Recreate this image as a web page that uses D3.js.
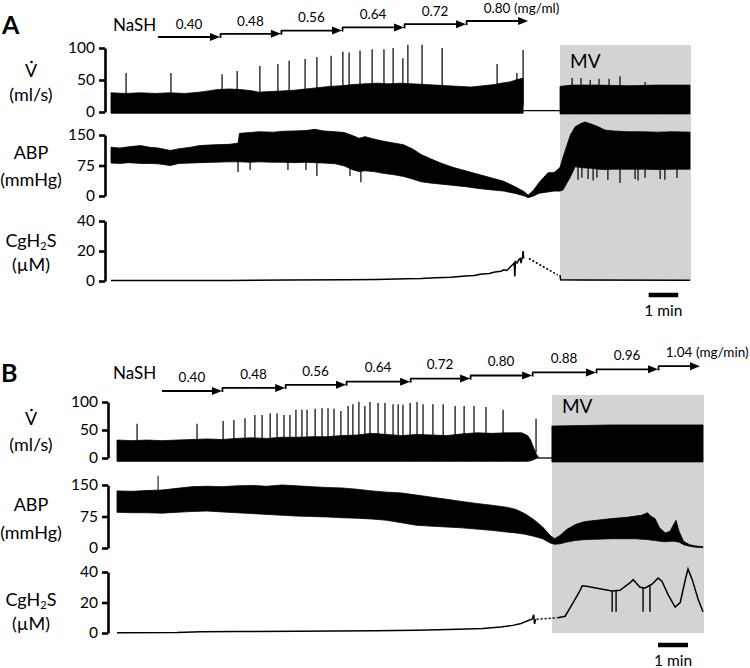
<!DOCTYPE html>
<html><head><meta charset="utf-8">
<script src="https://cdn.jsdelivr.net/npm/d3@7"></script>
<style>html,body{margin:0;padding:0;background:#fff;} svg{display:block;font-family:Lato,"Open Sans",sans-serif;}</style>
</head><body>
<script>
// ---------------- DATA ----------------
// Panel A (time in minutes)
const doseLabelsA = ["0.40","0.48","0.56","0.64","0.72","0.80"];
const doseTimesA = [1.59, 3.69, 5.75, 7.82, 9.92, 12.02, 14.12];
const doseUnitA = "(mg/ml)";
const mvA = [15.2, 19.6];
const tEndA = 19.6;
// V (ml/s) envelope [t, high, low]
const vEnvA = [[0,30,-2],[0.5,29,-2],[1.0,30,-2],[1.5,29,-2],[2.0,30,-2],[2.5,29,-2],[3.0,31,-2],[3.3,33,-2],[3.6,35,-2],[4.0,36,-2],[4.4,35,-2],[4.8,33,-2],[5.0,31,-2],[5.4,32,-2],[5.8,33,-2],[6.2,34,-2],[6.6,36,-2],[7.0,38,-2],[7.4,40,-2],[7.8,41,-2],[8.2,43,-2],[8.6,44,-2],[9.0,45,-2],[9.4,44,-2],[9.8,45,-2],[10.2,44,-2],[10.6,43,-2],[11.0,42,-2],[11.4,41,-2],[11.8,40,-2],[12.2,39,-2],[12.6,41,-2],[13.0,43,-2],[13.2,45,-2],[13.5,47,-2],[13.7,50,-2],[13.95,53,-2]];
const vGapA = [[13.95,2],[15.2,2]];
const vMvA = [[15.2,40,-3],[15.6,42,-3],[16.5,42,-3],[17.5,41,-3],[18.5,42,-3],[19.6,42,-3]];
const vSpikesA = [[0.51,61],[2.03,61],[3.76,59],[4.27,64],[5.04,72],[5.65,75],[6.03,80],[6.57,83],[6.97,86],[7.45,88],[7.85,94],[8.06,93],[8.43,96],[8.84,98],[9.24,98],[9.55,100],[9.88,84],[10.05,105],[10.53,105],[11.21,100],[13.07,75],[13.74,61],[13.95,97],[15.61,53],[15.91,53],[16.22,50],[16.52,52],[16.86,52],[17.23,56],[18.08,47]];
// ABP (mmHg) envelope [t, high, low]
const abpEnvA = [[0,120,81],[0.3,118,80],[0.6,121,82],[1.0,124,80],[1.3,120,80],[1.6,118,79],[2.0,112,75],[2.3,116,80],[2.7,120,81],[3.0,124,82],[3.5,126,83],[4.0,127,84],[4.3,130,84],[4.35,154,84],[4.7,156,83],[5.0,158,84],[5.5,157,83],[5.8,159,83],[6.2,160,82],[6.6,161,83],[6.9,164,82],[7.2,160,81],[7.6,158,79],[7.9,156,74],[8.2,148,64],[8.4,142,60],[8.6,146,62],[8.9,140,60],[9.2,135,56],[9.6,130,52],[9.9,126,48],[10.2,116,42],[10.5,102,35],[10.8,92,32],[11.2,80,29],[11.6,70,26],[12.0,62,23],[12.5,52,18],[12.9,44,15],[13.3,36,12],[13.7,22,6],[14.0,10,0],[14.12,2,-4],[14.3,14,0],[14.5,34,7],[14.79,57,10],[15.0,58,12],[15.2,70,12],[15.3,95,15],[15.55,150,47],[15.71,170,72],[15.9,178,70],[16.05,182,69],[16.3,176,68],[16.5,170,66],[16.72,162,65],[17.0,160,66],[17.5,158,66],[18.0,158,66],[18.5,157,65],[19.0,158,66],[19.6,157,66]];
const abpDipsA = [[4.30,59],[4.71,64],[5.99,64],[6.60,64],[6.97,49],[8.09,49],[8.46,34],[15.81,40],[15.94,45],[16.15,42],[16.32,38],[16.45,45],[16.82,40],[17.23,32],[17.74,42],[17.84,38],[18.08,45],[18.59,42],[18.75,40],[19.16,44]];
// CgH2S (uM)
const cgA = [[0,0.3],[2,0.3],[4,0.4],[6,0.6],[8,0.8],[9,1.0],[10,1.5],[10.5,1.6],[11,2.2],[11.5,2.5],[12,3.3],[12.3,3.6],[12.5,4.5],[12.8,5],[13,6],[13.2,6.5],[13.3,7.5],[13.4,7],[13.5,9],[13.6,11],[13.65,12],[13.67,3],[13.69,13],[13.75,12],[13.8,14],[13.85,15],[13.88,12],[13.9,14],[13.93,16],[13.95,20],[13.97,15]];
const cgDotA = [[14.15,15],[15.12,4]];
const cgMvA = [[15.2,4],[15.22,0.8],[16,0.6],[19.6,0.5]];
const cgDipsA = [];
const abpUpA = [];

// Panel B
const doseLabelsB = ["0.40","0.48","0.56","0.64","0.72","0.80","0.88","0.96","1.04"];
const doseTimesB = [1.50, 3.50, 5.61, 7.64, 9.78, 11.78, 13.85, 15.98, 18.05, 19.45];
const doseUnitB = "(mg/min)";
const mvB = [14.51, 19.55];
const tEndB = 19.55;
const vEnvB = [[0,32,-6],[0.5,31,-6],[1.0,32,-6],[1.5,31,-6],[2.0,32,-6],[2.5,33,-6],[3.0,34,-6],[3.5,33,-6],[4.0,35,-6],[4.5,36,-6],[5.0,35,-6],[5.5,37,-6],[6.0,37,-6],[6.5,38,-6],[7.0,38,-6],[7.5,40,-6],[8.0,41,-6],[8.5,44,-6],[9.0,42,-6],[9.5,40,-6],[10.0,42,-6],[10.5,41,-6],[11.0,40,-6],[11.5,43,-6],[12.0,45,-6],[12.5,44,-6],[13.0,45,-6],[13.5,45,-6],[13.7,40,-6],[13.8,32,-5],[13.9,18,-3],[13.98,8,-1],[14.05,2,0]];
const vGapB = [[14.05,0],[14.51,0]];
const vMvB = [[14.51,57,-7],[15.5,58,-7],[16.5,59,-7],[17.5,59,-7],[18.5,59,-7],[19.55,59,-7]];
const vSpikesB = [[0.67,61],[2.67,61],[3.54,66],[3.90,68],[4.27,71],[4.60,77],[4.84,77],[5.11,80],[5.34,80],[5.57,77],[5.77,77],[5.97,86],[6.17,86],[6.34,86],[6.61,88],[6.84,89],[7.04,89],[7.24,88],[7.47,84],[7.71,93],[7.87,96],[8.07,100],[8.27,93],[8.44,100],[8.71,98],[8.94,98],[9.21,96],[9.38,96],[9.54,95],[9.78,98],[10.01,100],[10.21,96],[10.54,96],[10.88,96],[11.28,93],[11.58,93],[11.91,93],[12.31,91],[12.88,86],[13.98,70]];
const abpEnvB = [[0,136,85],[0.5,135,84],[1.0,137,84],[1.5,138,83],[2.0,142,85],[2.5,146,87],[3.0,147,88],[3.5,146,86],[4.0,148,84],[4.5,149,82],[5.0,147,80],[5.5,150,78],[6.0,148,76],[6.5,146,75],[7.0,144,74],[7.5,143,72],[8.0,140,71],[8.5,136,69],[9.0,133,66],[9.5,131,60],[10.0,126,54],[10.5,121,52],[11.0,116,50],[11.5,111,48],[12.0,106,45],[12.5,102,42],[13.0,97,38],[13.3,92,36],[13.6,82,33],[13.9,68,28],[14.2,50,22],[14.45,30,12],[14.6,22,9],[14.78,30,10],[15.0,44,14],[15.3,56,18],[15.6,63,20],[16.0,66,21],[16.5,70,22],[17.0,73,22],[17.3,76,22],[17.5,78,21],[17.7,84,20],[17.8,76,19],[17.95,70,18],[18.1,48,16],[18.29,36,15],[18.45,40,16],[18.6,60,16],[18.65,66,15],[18.75,40,14],[18.9,16,8],[19.1,8,4],[19.3,5,2],[19.55,3,1]];
const abpDipsB = [];
const abpUpB = [[1.37,172]];
const cgB = [[0,0.2],[2,0.3],[2.8,0.8],[4,1.0],[6,1.2],[8.6,1.5],[10,1.8],[11.4,2.5],[12.2,3],[12.8,4],[13.2,5],[13.45,6],[13.7,8],[13.85,9],[13.9,12],[13.93,6],[13.97,9]];
const cgDotB = [[14.0,9],[14.7,10]];
const cgMvB = [[14.71,10],[14.95,11],[15.1,16],[15.28,22],[15.45,28],[15.52,31],[15.72,30.5],[16.1,29],[16.52,27.5],[16.78,28],[17.12,33],[17.22,35],[17.45,30],[17.62,29.5],[17.85,32],[18.05,36],[18.18,34],[18.39,25],[18.62,17],[18.79,20],[18.96,35],[19.05,42],[19.19,35],[19.39,22],[19.55,14]];
const cgDipsB = [[16.52,14],[16.65,14],[17.55,14],[17.78,14]];

const vTicks = [0,50,100];
const abpTicks = [0,75,150];
const cgTicks = [0,20,40];

// ---------------- DRAW ----------------
const svg = d3.select("body").append("svg").attr("width",750).attr("height",668);

function panel(p){
  const g = svg.append("g");
  const x = d3.scaleLinear().domain([0,p.tEnd]).range(p.xr);
  const yV = d3.scaleLinear().domain([0,100]).range(p.vr);
  const yA = d3.scaleLinear().domain([0,150]).range(p.ar);
  const yC = d3.scaleLinear().domain([0,40]).range(p.cr);

  // MV box
  g.append("rect").attr("x",x(p.mv[0])).attr("y",p.mvTop).attr("width",x(p.mv[1])-x(p.mv[0])+1)
   .attr("height",p.mvBottom-p.mvTop).attr("fill","#d3d3d3");
  g.append("text").attr("x",x(p.mv[0])+10).attr("y",p.mvTextY).attr("dy","0.35em")
   .attr("font-size",19).text("MV");

  const area = y => d3.area().x(d=>x(d[0])).y0(d=>y(d[2])).y1(d=>y(d[1]));
  const line = y => d3.line().x(d=>x(d[0])).y(d=>y(d[1]));

  // V
  [p.vEnv,p.vMv].forEach(a=>g.append("path").datum(a).attr("d",area(yV)).attr("fill","#000").attr("stroke","#000").attr("stroke-width",0.8));
  g.append("path").datum(p.vGap).attr("d",line(yV)).attr("fill","none").attr("stroke","#000").attr("stroke-width",1.3);
  g.selectAll(null).data(p.vSpikes).join("line").attr("x1",d=>x(d[0])).attr("x2",d=>x(d[0]))
   .attr("y1",yV(10)).attr("y2",d=>yV(d[1])).attr("stroke","#000").attr("stroke-width",1.2);

  // ABP
  g.append("path").datum(p.abpEnv).attr("d",area(yA)).attr("fill","#000").attr("stroke","#000").attr("stroke-width",0.8);
  g.selectAll(null).data(p.abpDips).join("line").attr("x1",d=>x(d[0])).attr("x2",d=>x(d[0]))
   .attr("y1",yA(100)).attr("y2",d=>yA(d[1])).attr("stroke","#000").attr("stroke-width",1.2);
  g.selectAll(null).data(p.abpUp).join("line").attr("x1",d=>x(d[0])).attr("x2",d=>x(d[0]))
   .attr("y1",yA(120)).attr("y2",d=>yA(d[1])).attr("stroke","#000").attr("stroke-width",1);

  // CgH2S
  [p.cg,p.cgMv].forEach(a=>g.append("path").datum(a).attr("d",line(yC)).attr("fill","none").attr("stroke","#000").attr("stroke-width",1.5));
  g.append("path").datum(p.cgDot).attr("d",line(yC)).attr("fill","none").attr("stroke","#000").attr("stroke-width",1.5).attr("stroke-dasharray","2,2");
  const bis = d3.bisector(d=>d[0]).left;
  const cgAt = t => { const i = bis(p.cgMv,t); const a=p.cgMv[i-1], b=p.cgMv[i]; return a[1]+(b[1]-a[1])*(t-a[0])/(b[0]-a[0]); };
  g.selectAll(null).data(p.cgDips).join("line").attr("x1",d=>x(d[0])).attr("x2",d=>x(d[0]))
   .attr("y1",d=>yC(cgAt(d[0]))).attr("y2",d=>yC(d[1])).attr("stroke","#000").attr("stroke-width",1.4);

  // Axes
  const ax = (scale, ticks) => {
    const a = g.append("g").attr("transform",`translate(${p.axisX},0)`)
      .call(d3.axisLeft(scale).tickValues(ticks).tickSize(6).tickSizeOuter(0).tickPadding(4));
    a.select(".domain").attr("stroke","#000").attr("stroke-width",2.6);
    a.selectAll(".tick line").attr("stroke","#000").attr("stroke-width",2.6);
    a.selectAll(".tick text").attr("font-size",15.5).attr("fill","#000").attr("font-family","Lato, sans-serif");
  };
  ax(yV,vTicks); ax(yA,abpTicks); ax(yC,cgTicks);

  // Axis titles
  const tx = 31;
  const t1 = (y,s)=>g.append("text").attr("x",tx).attr("y",y).attr("dy","0.35em").attr("text-anchor","middle").attr("font-size",18).text(s);
  t1(p.lab[0],"V");
  g.append("circle").attr("cx",tx+0.5).attr("cy",p.lab[0]-9).attr("r",1.3).attr("fill","#000");
  t1(p.lab[1],"(ml/s)");
  t1(p.lab[2],"ABP");
  t1(p.lab[3],"(mmHg)");
  const cgT = g.append("text").attr("x",tx).attr("y",p.lab[4]).attr("dy","0.35em").attr("text-anchor","middle").attr("font-size",18);
  cgT.append("tspan").text("CgH");
  cgT.append("tspan").attr("font-size",11).attr("dy","3").text("2");
  cgT.append("tspan").attr("dy","-3").text("S");
  t1(p.lab[5],"(µM)");

  // Panel letter
  g.append("text").attr("x",p.letterX).attr("y",p.letterY).attr("dy","0.35em").attr("font-size",25).attr("font-weight","bold").text(p.letter);
  // NaSH
  g.append("text").attr("x",p.nashX).attr("y",p.nashY).attr("dy","0.35em").attr("font-size",17).text("NaSH");

  // dose arrows
  const n = p.doseLabels.length;
  for(let i=0;i<n;i++){
    const x0 = x(p.doseTimes[i]), x1 = x(p.doseTimes[i+1]);
    const yy = p.arrowY - i*p.arrowStep;
    if(i>0){
      g.append("line").attr("x1",x0+0.5).attr("x2",x0+0.5).attr("y1",yy+p.arrowStep+1).attr("y2",yy).attr("stroke","#000").attr("stroke-width",1.8);
    }
    g.append("line").attr("x1",x0).attr("x2",x1-6).attr("y1",yy).attr("y2",yy).attr("stroke","#000").attr("stroke-width",1.8);
    g.append("path").attr("d",`M${x1},${yy}L${x1-10},${yy-4}L${x1-10},${yy+4}Z`).attr("fill","#000");
    const mid=(x0+x1)/2;
    g.append("text").attr("x",mid).attr("y",yy-p.labOff).attr("dy","0.35em").attr("text-anchor","middle").attr("font-size",13.5).text(p.doseLabels[i]);
    if(i===n-1){
      g.append("text").attr("x",mid+17).attr("y",yy-p.labOff).attr("dy","0.35em").attr("font-size",13.5).text(p.doseUnit);
    }
  }

  // scale bar 1 min
  g.append("line").attr("x1",x(p.bar)).attr("x2",x(p.bar+1)).attr("y1",p.barY).attr("y2",p.barY).attr("stroke","#000").attr("stroke-width",4.5);
  g.append("text").attr("x",(x(p.bar)+x(p.bar+1))/2).attr("y",p.barY+16).attr("dy","0.35em").attr("text-anchor","middle").attr("font-size",15.5).text("1 min");
}

panel({xr:[111,690], tEnd:tEndA, vr:[112,48], ar:[196,135], cr:[281,221], axisX:105,
  mv:mvA, mvTop:45, mvBottom:281, mvTextY:61,
  vEnv:vEnvA, vMv:vMvA, vGap:vGapA, vSpikes:vSpikesA, abpEnv:abpEnvA, abpDips:abpDipsA, abpUp:abpUpA,
  cg:cgA, cgMv:cgMvA, cgDot:cgDotA, cgDips:cgDipsA,
  lab:[71,95,153,180,241,265], letter:"A", letterX:2, letterY:25, nashX:113, nashY:25,
  doseLabels:doseLabelsA, doseTimes:doseTimesA, doseUnit:doseUnitA, arrowY:37, arrowStep:3.2, labOff:13,
  bar:18.2, barY:295});

panel({xr:[117,703], tEnd:tEndB, vr:[458,402], ar:[548,485], cr:[633,572], axisX:108,
  mv:mvB, mvTop:395, mvBottom:633, mvTextY:406,
  vEnv:vEnvB, vMv:vMvB, vGap:vGapB, vSpikes:vSpikesB, abpEnv:abpEnvB, abpDips:abpDipsB, abpUp:abpUpB,
  cg:cgB, cgMv:cgMvB, cgDot:cgDotB, cgDips:cgDipsB,
  lab:[419,445,505,533,600,624], letter:"B", letterX:1, letterY:373, nashX:113, nashY:373,
  doseLabels:doseLabelsB, doseTimes:doseTimesB, doseUnit:doseUnitB, arrowY:391, arrowStep:3.1, labOff:14,
  bar:18.05, barY:645});
</script>
</body></html>
